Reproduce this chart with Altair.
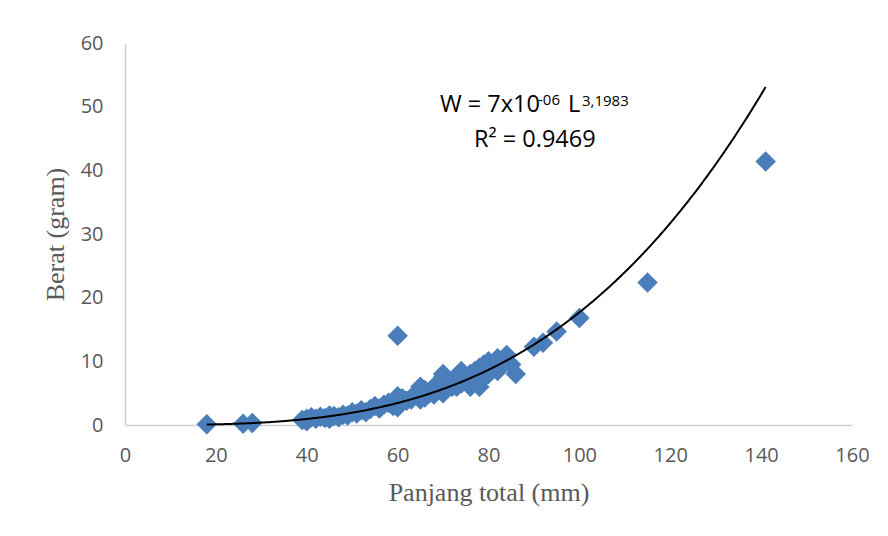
import altair as alt
import pandas as pd

# Observed points (total length in mm, weight in grams)
length_mm = [18, 26, 28,
             39, 40, 40, 41, 42, 43, 44, 45, 45, 46, 47, 48, 49, 50, 51, 52, 53, 54,
             55, 56, 57, 58, 59, 60, 60, 61, 62, 63, 64, 65, 65, 66, 67, 68, 69,
             70, 70, 70, 71, 72, 72, 73, 74, 74, 75, 76, 76, 77, 78, 78, 79,
             80, 80, 81, 82, 82, 83, 84, 85, 86,
             66, 68, 73, 77, 79,
             60, 90, 92, 95, 100, 115, 141]
weight_g = [0.1, 0.2, 0.3,
            0.8, 1.0, 0.6, 1.2, 1.0, 1.3, 1.1, 1.5, 1.0, 1.4, 1.2, 1.6, 1.5, 2.0, 1.8, 2.3, 2.0, 2.5,
            3.0, 2.6, 3.2, 3.5, 3.0, 4.5, 2.8, 4.2, 3.8, 4.0, 5.0, 6.0, 4.0, 5.5, 5.0, 6.0, 5.5,
            7.5, 8.0, 5.0, 6.5, 7.0, 6.0, 7.5, 8.5, 6.5, 7.0, 8.0, 6.0, 8.5, 9.0, 6.0, 9.5,
            10.0, 8.0, 9.0, 10.5, 8.5, 10.0, 11.0, 9.5, 8.0,
            4.3, 4.8, 6.0, 7.0, 7.5,
            14.0, 12.3, 12.9, 14.7, 16.8, 22.4, 41.4]

x_ticks = [0, 20, 40, 60, 80, 100, 120, 140, 160]
y_ticks = [0, 10, 20, 30, 40, 50, 60]

# Power trendline W = a * L^b (label shows a rounded to 7x10^-06)
fit_a = 7.1e-06
fit_b = 3.1983
fit_start, fit_stop = 18, 141

eq_main = "W = 7x10"
eq_exp1 = "-06"
eq_l = "L"
eq_exp2 = "3,1983"
eq_r2 = "R² = 0.9469"

df = pd.DataFrame({"L": length_mm, "W": weight_g})

xscale = alt.Scale(domain=[0, 160], nice=False, zero=False)
yscale = alt.Scale(domain=[0, 60], nice=False)

label_font = "Open Sans"
gray = "#595959"

x_axis = alt.Axis(values=x_ticks, title="Panjang total (mm)", grid=False, ticks=False,
                  domainColor="#D0D0D0", domainWidth=1.5, labelFont=label_font, labelFontSize=20,
                  labelColor=gray, labelPadding=20, labelFlush=False, titleFont="Liberation Serif",
                  titleFontSize=26, titleFontWeight="normal", titleColor=gray, titlePadding=14)
y_axis = alt.Axis(values=y_ticks, title="Berat (gram)", grid=False, ticks=False,
                  domainColor="#D0D0D0", domainWidth=1.5, labelFont=label_font, labelFontSize=20,
                  labelColor=gray, labelPadding=22, labelFlush=False, titleFont="Liberation Serif",
                  titleFontSize=26, titleFontWeight="normal", titleColor=gray, titlePadding=12)

points = alt.Chart(df).mark_point(shape="diamond", filled=True, size=420,
                                  color="#4A7EBB", opacity=1).encode(
    x=alt.X("L:Q", scale=xscale, axis=x_axis),
    y=alt.Y("W:Q", scale=yscale, axis=y_axis),
)

trend = alt.Chart(alt.sequence(fit_start, fit_stop + 0.25, 0.25, as_="L")).transform_calculate(
    W=f"{fit_a} * pow(datum.L, {fit_b})"
).mark_line(color="black", strokeWidth=2).encode(
    x=alt.X("L:Q", scale=xscale),
    y=alt.Y("W:Q", scale=yscale),
)

def txt(s, x, y, size):
    return alt.Chart(pd.DataFrame({"t": [s]})).mark_text(
        align="left", baseline="alphabetic", font=label_font, fontSize=size, color="black"
    ).encode(text="t:N", x=alt.value(x), y=alt.value(y))

annot = (txt(eq_main, 315, 69, 23.5) + txt(eq_exp1, 413, 62, 15) + txt(eq_l, 443, 69, 23.5)
         + txt(eq_exp2, 457, 63, 15) + txt(eq_r2, 349, 104, 23.5))

chart = alt.layer(points, trend, annot).properties(
    width=727, height=382,
    padding={"left": 117, "top": 35, "right": 28, "bottom": 103},
    autosize=alt.AutoSizeParams(type="none"),
    background="white",
).configure_view(strokeWidth=0, stroke=None)

chart.save("out.html", embed_options={"renderer": "svg", "actions": False})
